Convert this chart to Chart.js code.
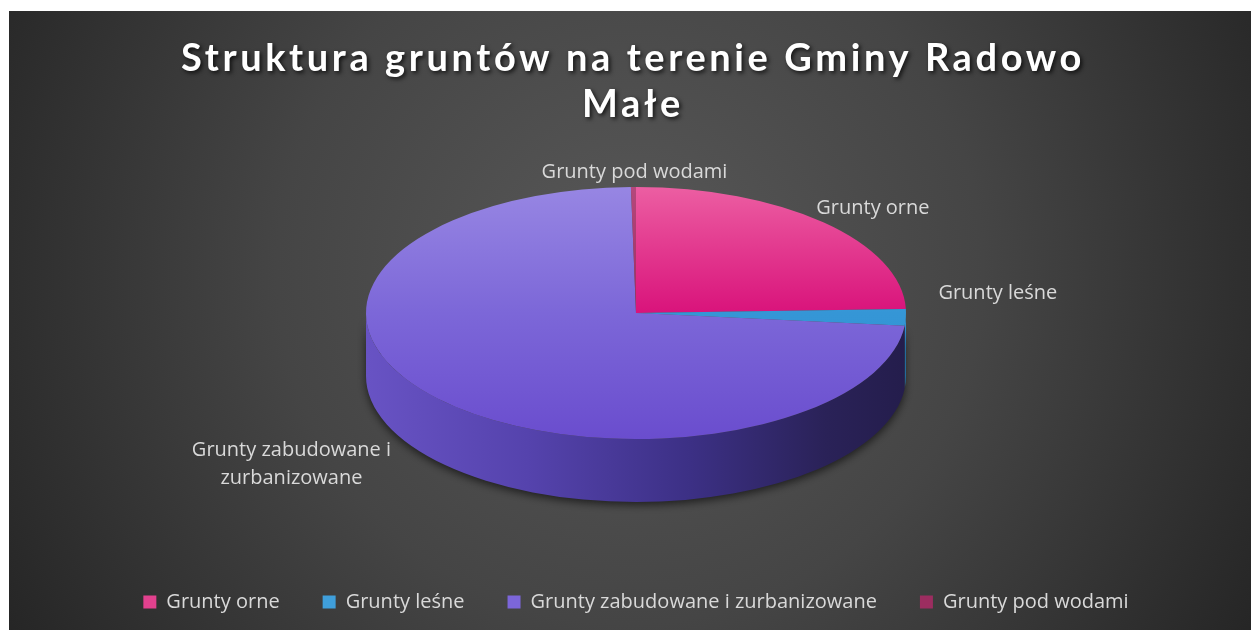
<!DOCTYPE html>
<html>
<head>
<meta charset="utf-8">
<script src="https://cdn.jsdelivr.net/npm/chart.js@4"></script>
<style>
  html, body { margin: 0; padding: 0; background: #fff; }
  #grunty { position: absolute; left: 9px; top: 11px; }
</style>
</head>
<body>
<canvas id="grunty" width="1242" height="619"></canvas>
<script>
const titleLines = ['Struktura gruntów na terenie Gminy Radowo', 'Małe']
const categories = ['Grunty orne', 'Grunty leśne', 'Grunty zabudowane i zurbanizowane', 'Grunty pod wodami']
const shares = [24.5, 2.1, 73.1, 0.3]
const labelLines = [['Grunty orne'], ['Grunty leśne'], ['Grunty zabudowane i', 'zurbanizowane'], ['Grunty pod wodami']]

// colours: top face gradient (top, middle, bottom), legend swatch
const topLight = ['#ec5ea2', '#64b6e8', '#9786e3', '#b5487c']
const topMid = ['#d9137b', '#3596d6', '#7c67d8', '#9c2d60']
const topDark = ['#d5107a', '#2f90d2', '#6a4dce', '#8c1f52']
const swatch = ['#e2418e', '#3f9fdb', '#7c66da', '#9c2d60']

// label nudges from the slice edge, in pixels
const labelShift = [[49, -14], [92, -24], [-146, 66], [1, -15]]

const tilt = { rx: 270, ry: 126, depth: 63 }

const LABEL_FONT = '20px "Open Sans"'

const squash = (chart) => {
  const arc = chart.getDatasetMeta(0).data[0]
  const r = arc.outerRadius
  return { x: arc.x, y: arc.y, r: r, sx: tilt.rx / r, sy: tilt.ry / r }
}

const backdrop = {
  id: 'backdrop',
  beforeDraw(chart) {
    const ctx = chart.ctx
    const w = chart.width, h = chart.height
    const g = ctx.createRadialGradient(w * 0.5, h * 0.42, 20, w * 0.5, h * 0.42, 760)
    g.addColorStop(0, '#575757')
    g.addColorStop(0.45, '#454545')
    g.addColorStop(1, '#222222')
    ctx.save()
    ctx.fillStyle = g
    ctx.fillRect(0, 0, w, h)
    ctx.restore()
  }
}

const pie3d = {
  id: 'pie3d',
  beforeDatasetsDraw(chart) {
    const ctx = chart.ctx
    const s = squash(chart)
    const D = tilt.depth / s.sy
    ctx.save()
    ctx.translate(s.x, s.y)
    ctx.scale(s.sx, s.sy)
    ctx.translate(-s.x, -s.y)

    // side wall, only the front half shows
    const side = ctx.createLinearGradient(s.x - s.r, 0, s.x + s.r, 0)
    side.addColorStop(0, '#6853c4')
    side.addColorStop(0.3, '#5543ad')
    side.addColorStop(0.6, '#3c3085')
    side.addColorStop(0.85, '#2a2258')
    side.addColorStop(1, '#241d4c')
    chart.getDatasetMeta(0).data.forEach((arc, i) => {
      const a = Math.max(arc.startAngle, 0)
      const b = Math.min(arc.endAngle, Math.PI)
      if (b <= a) return
      ctx.save()
      if (i === 2) {
        ctx.shadowColor = 'rgba(0,0,0,0.6)'
        ctx.shadowBlur = 8
        ctx.shadowOffsetY = 3
        ctx.fillStyle = side
      } else {
        ctx.fillStyle = topDark[i]
      }
      ctx.beginPath()
      ctx.arc(arc.x, arc.y, arc.outerRadius, a, b)
      ctx.arc(arc.x, arc.y + D, arc.outerRadius, b, a, true)
      ctx.closePath()
      ctx.fill()
      ctx.restore()
    })
  },
  afterDatasetsDraw(chart) {
    chart.ctx.restore()
  },
  afterDraw(chart) {
    const ctx = chart.ctx
    const s = squash(chart)
    ctx.save()
    // title
    ctx.font = 'bold 38px Lato'
    ctx.letterSpacing = '3.6px'
    ctx.fillStyle = '#ffffff'
    ctx.textAlign = 'center'
    ctx.textBaseline = 'alphabetic'
    ctx.shadowColor = 'rgba(0,0,0,0.75)'
    ctx.shadowBlur = 4
    ctx.shadowOffsetX = 2
    ctx.shadowOffsetY = 2
    titleLines.forEach((t, k) => ctx.fillText(t, chart.width / 2 + 3, 60 + k * 46))
    ctx.restore()

    // slice labels
    ctx.save()
    ctx.font = LABEL_FONT
    ctx.fillStyle = '#d9d9d9'
    ctx.textAlign = 'center'
    ctx.textBaseline = 'middle'
    chart.getDatasetMeta(0).data.forEach((arc, i) => {
      const mid = (arc.startAngle + arc.endAngle) / 2
      const px = s.x + tilt.rx * Math.cos(mid) + labelShift[i][0]
      const py = s.y + tilt.ry * Math.sin(mid) + labelShift[i][1]
      const lines = labelLines[i]
      lines.forEach((ln, k) => {
        ctx.fillText(ln, px, py + (k - (lines.length - 1) / 2) * 28)
      })
    })
    ctx.restore()
  }
}

// vertical gradient over the pie, built from the chart area
const faceColour = (context) => {
  const i = context.dataIndex
  const area = context.chart.chartArea
  if (!area) return swatch[i]
  const cy = (area.top + area.bottom) / 2
  const r = Math.min(area.right - area.left, area.bottom - area.top) / 2
  const g = context.chart.ctx.createLinearGradient(0, cy - r, 0, cy + r)
  g.addColorStop(0, topLight[i])
  g.addColorStop(0.5, topMid[i])
  g.addColorStop(1, topDark[i])
  return g
}

const chart = new Chart(document.getElementById('grunty'), {
  type: 'pie',
  data: {
    labels: categories,
    datasets: [{
      data: shares,
      backgroundColor: faceColour,
      borderWidth: 0
    }]
  },
  options: {
    responsive: false,
    devicePixelRatio: 1,
    animation: false,
    layout: { padding: { top: 66, left: 12, bottom: 8 } },
    plugins: {
      tooltip: { enabled: false },
      legend: {
        position: 'bottom',
        labels: {
          color: '#d9d9d9',
          font: { family: '"Open Sans"', size: 20 },
          boxWidth: 13,
          boxHeight: 13,
          padding: 43,
          generateLabels: () => categories.map((c, i) => ({
            text: c,
            fillStyle: swatch[i],
            strokeStyle: swatch[i],
            lineWidth: 0,
            fontColor: '#d9d9d9',
            index: i
          }))
        }
      }
    }
  },
  plugins: [backdrop, pie3d]
})
</script>
</body>
</html>
